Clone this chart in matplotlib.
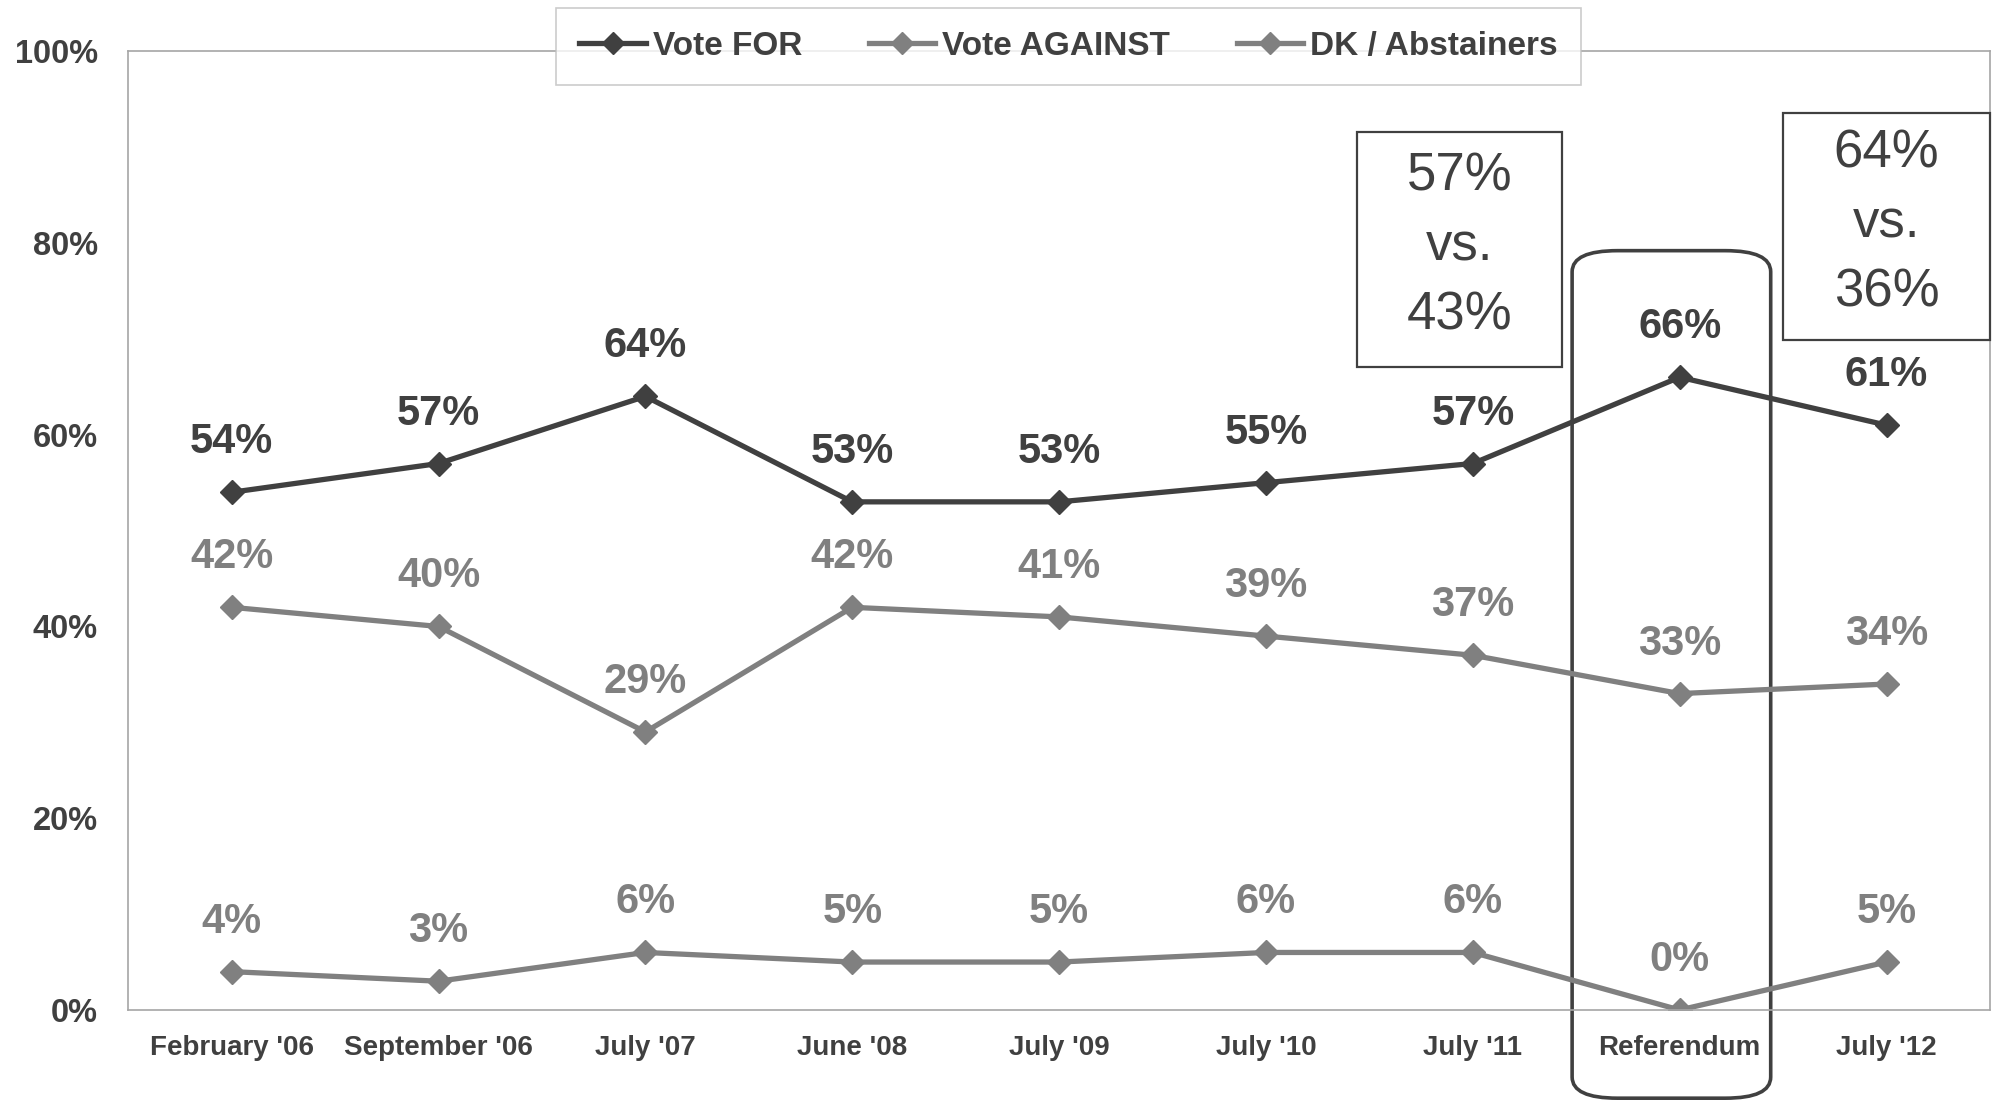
import matplotlib.pyplot as plt
from matplotlib.patches import FancyBboxPatch, Rectangle
from matplotlib.ticker import FuncFormatter

plt.rcParams['font.family'] = ['Liberation Sans', 'DejaVu Sans']

dates = ["February '06", "September '06", "July '07", "June '08", "July '09",
         "July '10", "July '11", "Referendum", "July '12"]
vote_for = [54, 57, 64, 53, 53, 55, 57, 66, 61]
vote_against = [42, 40, 29, 42, 41, 39, 37, 33, 34]
dk_abst = [4, 3, 6, 5, 5, 6, 6, 0, 5]
box_texts = ["57%\nvs.\n43%", "64%\nvs.\n36%"]

dark = '#404040'
grey = '#808080'

fig = plt.figure(figsize=(20.04, 11.02), dpi=100)
ax = fig.add_axes([0.064, 0.0835, 0.929, 0.870])

x = range(len(dates))
series = [(vote_for, 'Vote FOR', dark), (vote_against, 'Vote AGAINST', grey),
          (dk_abst, 'DK / Abstainers', grey)]
for vals, name, col in series:
    ax.plot(x, vals, color=col, lw=3.8, marker='D', markersize=12, label=name)
    for xi, v in zip(x, vals):
        ax.annotate(f'{v}%', (xi, v), xytext=(0, 36), textcoords='offset points',
                    ha='center', va='center', fontsize=30, fontweight='bold', color=col)

ax.set_xlim(-0.5, len(dates) - 0.5)
ax.set_ylim(0, 100)
ax.set_yticks(range(0, 101, 20))
ax.yaxis.set_major_formatter(FuncFormatter(lambda v, p: f'{v:.0f}%'))
ax.set_xticks(list(x))
ax.set_xticklabels(dates)
ax.tick_params(length=0, labelcolor=dark)
ax.tick_params(axis='y', pad=22, labelsize=23.5)
ax.tick_params(axis='x', pad=18, labelsize=20)
for lab in ax.get_xticklabels() + ax.get_yticklabels():
    lab.set_fontweight('bold')
for s in ax.spines.values():
    s.set_color('#a6a6a6')
    s.set_linewidth(1.2)

# comparison boxes (drawn as frames with centred text)
for (x0, x1, y0, y1), txt in zip([(5.44, 6.43, 67.1, 91.6), (7.5, 8.5, 69.9, 93.6)],
                                 box_texts):
    ax.add_patch(Rectangle((x0, y0), x1 - x0, y1 - y0, fc='white', ec=dark,
                           lw=1.6, clip_on=False, zorder=3))
    ax.text((x0 + x1) / 2, (y0 + y1) / 2 + 0.3, txt, ha='center', va='center',
            fontsize=38, color=dark, linespacing=1.5, zorder=4)

# referendum highlight
ax.add_patch(FancyBboxPatch((6.6, -8.0), 0.72, 86.0,
                            boxstyle='round,pad=0.12,rounding_size=0.22',
                            fc='none', ec=dark, lw=2.6, clip_on=False,
                            mutation_aspect=10))

leg = fig.legend(loc='upper center', bbox_to_anchor=(0.5332, 0.993), ncol=3,
                 fontsize=24, frameon=True, fancybox=False, handlelength=2.0,
                 handletextpad=0.2, columnspacing=2.0, borderpad=0.7,
                 borderaxespad=0, markerscale=0.9)
leg.get_frame().set_edgecolor('#bfbfbf')
leg.get_frame().set_linewidth(1.2)
for t in leg.get_texts():
    t.set_fontweight('bold')
    t.set_color(dark)

fig.savefig('out.png', dpi=100)
